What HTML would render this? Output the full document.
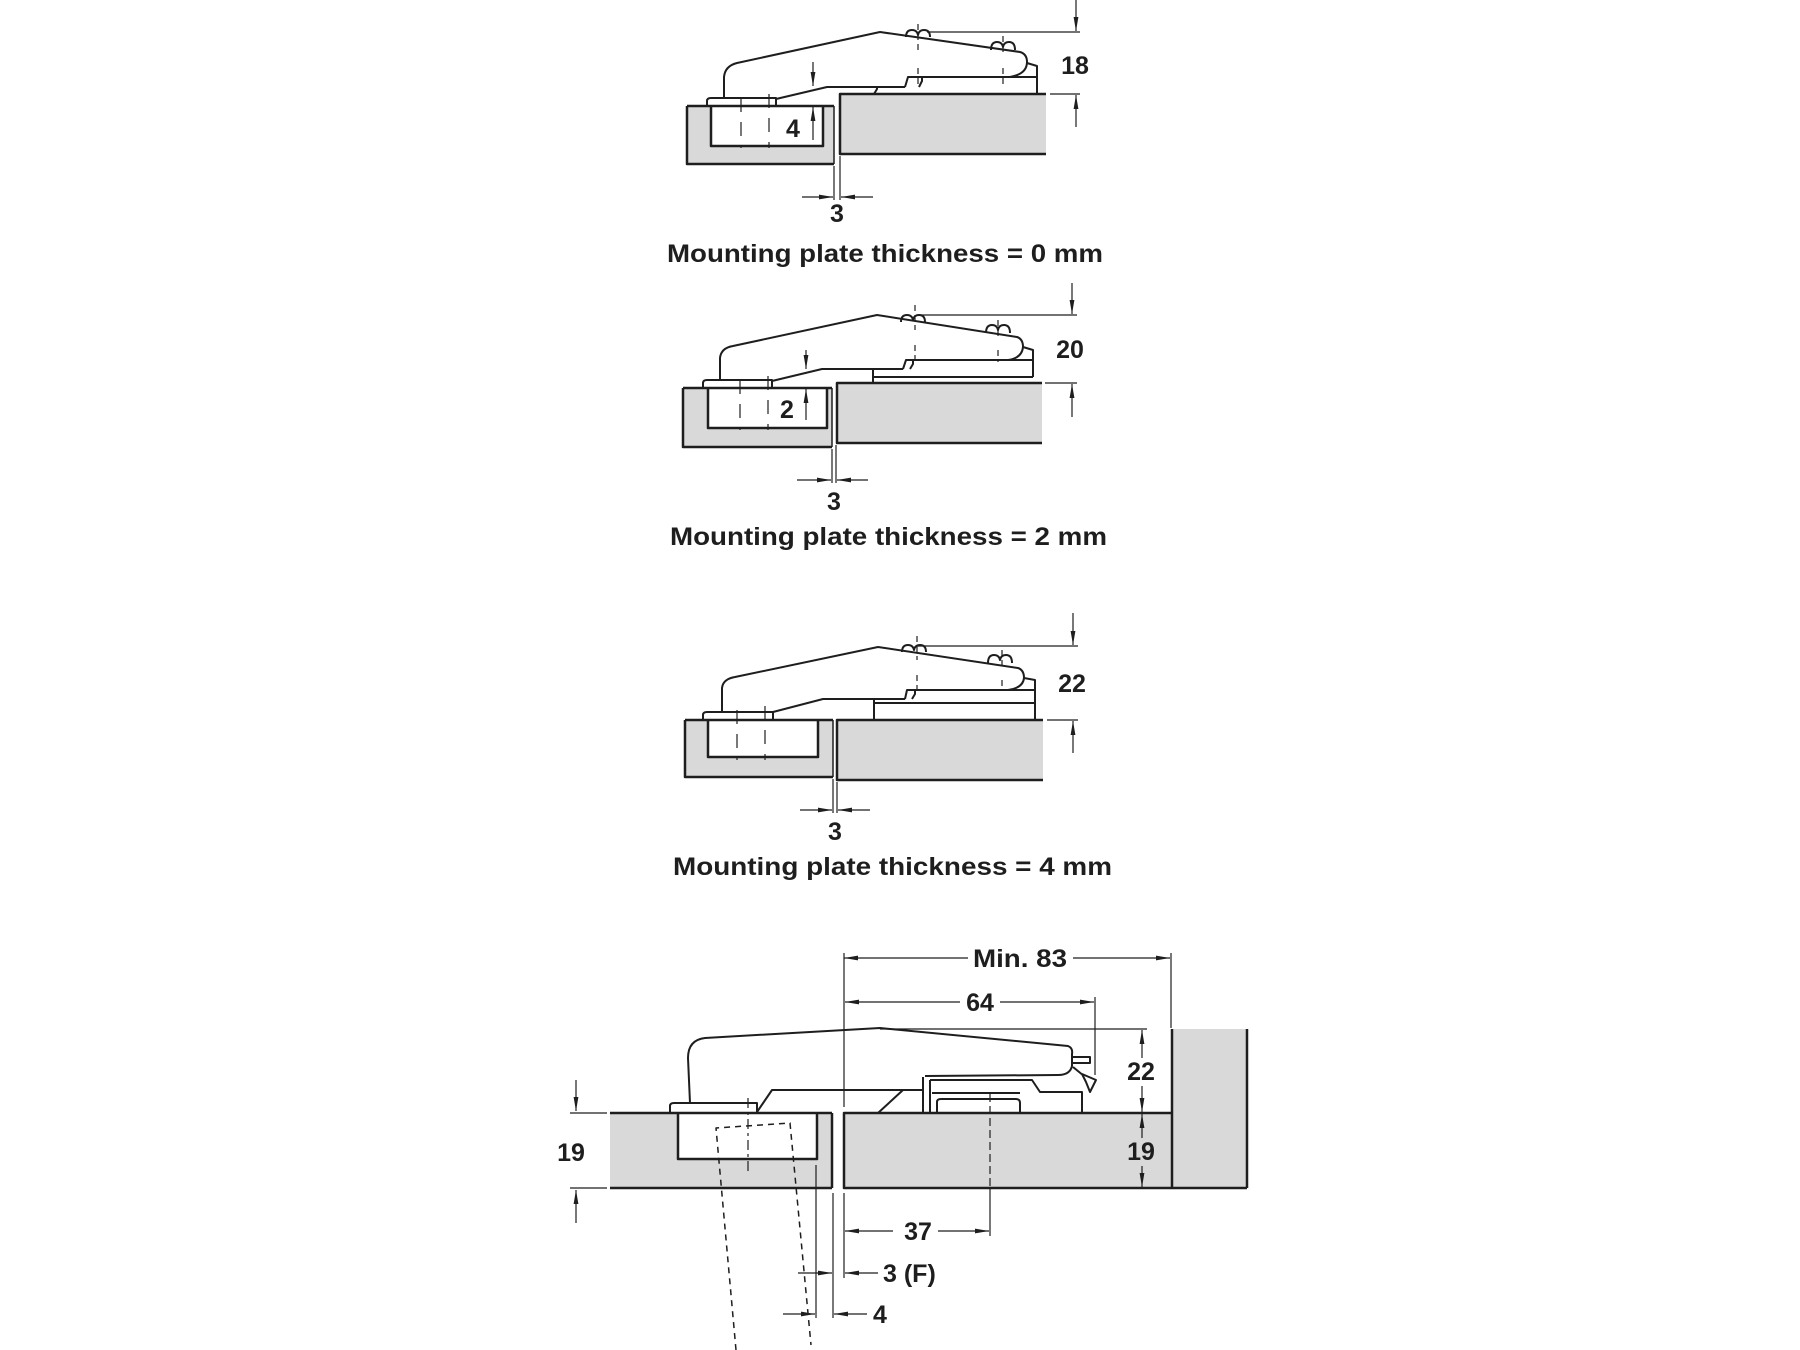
<!DOCTYPE html>
<html><head><meta charset="utf-8"><style>
html,body{margin:0;padding:0;background:#fff;}
svg{display:block;}
text{font-family:"Liberation Sans",Arial,sans-serif;font-weight:bold;fill:#1e1e1e;font-size:25px;}
</style></head><body>
<svg width="1800" height="1350" viewBox="0 0 1800 1350" xmlns="http://www.w3.org/2000/svg">
<defs>
<marker id="ar" viewBox="0 0 14 6" refX="14" refY="3" markerWidth="14" markerHeight="6" orient="auto" markerUnits="userSpaceOnUse"><path d="M0,0.6 L14,3 L0,5.4 z" fill="#1e1e1e"/></marker>
</defs>

<!-- ============ DIAGRAM 1 ============ -->
<g stroke="none" fill="#d9d9d9">
<rect x="687" y="106" width="147" height="58"/>
<rect x="840" y="94" width="206" height="60"/>
</g>
<rect x="711" y="106" width="112" height="40" fill="#fff"/>
<g fill="none" stroke="#1e1e1e" stroke-linejoin="round">
<g stroke-width="2.5">
<path d="M687,106 L834,106 M711,106 L711,146 L823,146 L823,106 M687,106 L687,164 L834,164"/>
<path d="M1046,94 L840,94 L840,154 L1046,154"/>
</g>
<path stroke-width="1.5" d="M834,106 L834,164"/>
<g stroke-width="2">
<path d="M707,106 L707,101 Q707,98 711,98 L776,98 L776,106"/>
<path d="M724,98 L724,77 Q725,66 737,63 L880,32 L1020,52 Q1027,54 1027,62 Q1027,74 1010,77"/>
<path d="M1027,63 L1037,66 L1037,94"/>
<path d="M922,77 L1037,77"/>
<path d="M776,99 L827,87 L905,87 M905,87 L908,77 L922,77 L922,81 L919,87"/>
<path d="M874,94 L877,89 L877,87"/>
<path d="M906,37 Q906,30 912,30 Q917,30 918,35 Q919,30 924,30 Q930,30 930,37"/>
<path d="M991,50 Q991,42 997,42 Q1002,42 1003,47 Q1004,42 1009,42 Q1015,42 1015,50"/>
</g>
<g stroke-width="1.2">
<path d="M927,32 L1080,32 M1050,94 L1080,94 M834,166 L834,200 M840,156 L840,200"/>
<path d="M1076,0 L1076,31" marker-end="url(#ar)"/>
<path d="M1076,127 L1076,95" marker-end="url(#ar)"/>
<path d="M813,62 L813,86" marker-end="url(#ar)"/>
<path d="M813,140 L813,107" marker-end="url(#ar)"/>
<path d="M802,197 L833,197" marker-end="url(#ar)"/>
<path d="M873,197 L841,197" marker-end="url(#ar)"/>
<path stroke-dasharray="14,10" d="M741,98 L741,148 M769,94 L769,148"/>
<path stroke-dasharray="6,4" d="M918,24 L918,52 M918,68 L918,88 M1003,36 L1003,56 M1003,68 L1003,84"/>
</g>
</g>
<text x="1075" y="74" text-anchor="middle">18</text>
<text x="793" y="137" text-anchor="middle">4</text>
<text x="837" y="222" text-anchor="middle">3</text>
<text x="667" y="262" textLength="436" lengthAdjust="spacingAndGlyphs">Mounting plate thickness = 0 mm</text>

<!-- ============ DIAGRAM 2 ============ -->
<g stroke="none" fill="#d9d9d9">
<rect x="683" y="388" width="149" height="59"/>
<rect x="837" y="383" width="205" height="60"/>
</g>
<rect x="708" y="388" width="119" height="40" fill="#fff"/>
<g fill="none" stroke="#1e1e1e" stroke-linejoin="round">
<g stroke-width="2.5">
<path d="M683,388 L832,388 M708,388 L708,428 L827,428 L827,388 M683,388 L683,447 L832,447"/>
<path d="M1042,383 L837,383 L837,443 L1042,443"/>
</g>
<path stroke-width="1.5" d="M832,388 L832,447"/>
<g stroke-width="2">
<path d="M703,388 L703,383 Q703,380 707,380 L772,380 L772,388"/>
<path d="M720,380 L720,358 Q721,348 733,346 L877,315 L1017,337 Q1023,339 1023,347 Q1022,358 1008,360"/>
<path d="M1023,347 L1033,350 L1033,377"/>
<path d="M913,360 L1033,360"/>
<path d="M772,381 L822,369 L903,369 M903,369 L906,360 L913,360 L913,364 L910,369"/>
<path d="M873,369 L873,383 M873,377 L1033,377"/>
<path d="M901,322 Q901,315 907,315 Q912,315 913,320 Q914,315 919,315 Q925,315 925,322"/>
<path d="M986,333 Q986,325 992,325 Q997,325 998,330 Q999,325 1004,325 Q1010,325 1010,333"/>
</g>
<g stroke-width="1.2">
<path d="M917,315 L1077,315 M1045,383 L1077,383 M832,449 L832,483 M836,445 L836,483"/>
<path d="M1072,283 L1072,314" marker-end="url(#ar)"/>
<path d="M1072,417 L1072,384" marker-end="url(#ar)"/>
<path d="M806,350 L806,369" marker-end="url(#ar)"/>
<path d="M806,420 L806,389" marker-end="url(#ar)"/>
<path d="M797,480 L831,480" marker-end="url(#ar)"/>
<path d="M868,480 L837,480" marker-end="url(#ar)"/>
<path stroke-dasharray="14,10" d="M740,380 L740,430 M768,376 L768,430"/>
<path stroke-dasharray="6,4" d="M915,305 L915,330 M915,345 L915,362 M998,320 L998,337 M998,350 L998,362"/>
</g>
</g>
<text x="1070" y="358" text-anchor="middle">20</text>
<text x="787" y="418" text-anchor="middle">2</text>
<text x="834" y="510" text-anchor="middle">3</text>
<text x="670" y="545" textLength="437" lengthAdjust="spacingAndGlyphs">Mounting plate thickness = 2 mm</text>

<!-- ============ DIAGRAM 3 ============ -->
<g stroke="none" fill="#d9d9d9">
<rect x="685" y="720" width="148" height="57"/>
<rect x="837" y="720" width="206" height="60"/>
</g>
<rect x="708" y="720" width="110" height="37" fill="#fff"/>
<g fill="none" stroke="#1e1e1e" stroke-linejoin="round">
<g stroke-width="2.5">
<path d="M685,720 L833,720 M708,720 L708,757 L818,757 L818,720 M685,720 L685,777 L833,777"/>
<path d="M1043,720 L837,720 L837,780 L1043,780"/>
</g>
<path stroke-width="1.5" d="M833,720 L833,777"/>
<g stroke-width="2">
<path d="M703,720 L703,715 Q703,712 707,712 L773,712 L773,720"/>
<path d="M722,712 L722,688 Q723,679 735,677 L878,647 L1018,668 Q1024,670 1024,678 Q1023,688 1008,690"/>
<path d="M1024,678 L1035,680 L1035,720"/>
<path d="M913,690 L1035,690"/>
<path d="M773,712 L823,699 L905,699 M905,699 L907,690 L915,690 L915,694 L912,699"/>
<path d="M874,699 L874,720 M874,703 L1035,703"/>
<path d="M902,652 Q902,645 908,645 Q913,645 914,650 Q915,645 920,645 Q926,645 926,652"/>
<path d="M988,663 Q988,655 994,655 Q999,655 1000,660 Q1001,655 1006,655 Q1012,655 1012,663"/>
</g>
<g stroke-width="1.2">
<path d="M917,646 L1078,646 M1047,720 L1078,720 M833,779 L833,813 M837,782 L837,813"/>
<path d="M1073,613 L1073,645" marker-end="url(#ar)"/>
<path d="M1073,753 L1073,721" marker-end="url(#ar)"/>
<path d="M800,810 L832,810" marker-end="url(#ar)"/>
<path d="M870,810 L838,810" marker-end="url(#ar)"/>
<path stroke-dasharray="14,10" d="M737,710 L737,760 M765,706 L765,760"/>
<path stroke-dasharray="6,4" d="M917,636 L917,660 M917,675 L917,690 M1002,650 L1002,668 M1002,680 L1002,690"/>
</g>
</g>
<text x="1072" y="692" text-anchor="middle">22</text>
<text x="835" y="840" text-anchor="middle">3</text>
<text x="673" y="875" textLength="439" lengthAdjust="spacingAndGlyphs">Mounting plate thickness = 4 mm</text>

<!-- ============ BOTTOM DIAGRAM ============ -->
<g stroke="none" fill="#d9d9d9">
<rect x="610" y="1113" width="222" height="75"/>
<rect x="844" y="1113" width="328" height="75"/>
<rect x="1172" y="1029" width="75" height="159"/>
</g>
<rect x="678" y="1113" width="139" height="46" fill="#fff"/>
<g fill="none" stroke="#1e1e1e" stroke-linejoin="round">
<path stroke-width="1.5" stroke-dasharray="6,5" d="M736,1350 L716,1128 L790,1123 L811,1345"/>
<path stroke-width="1.2" stroke-dasharray="10,4,3,4" d="M748,1098 L748,1172"/>
<g stroke-width="2.5">
<path d="M610,1113 L832,1113 M678,1113 L678,1159 L817,1159 L817,1113 M832,1113 L832,1188 M610,1188 L832,1188"/>
<path d="M1172,1113 L844,1113 L844,1188 L1247,1188 M1172,1029 L1172,1188 M1247,1029 L1247,1188"/>
</g>
<g stroke-width="2">
<path d="M670,1113 L670,1106 Q670,1103 674,1103 L757,1103 L757,1113"/>
<path d="M690,1103 L688,1058 Q688,1040 705,1038 L880,1028 L1068,1046 Q1073,1048 1072,1054 L1072,1066 Q1070,1075 1058,1075 L925,1076"/>
<path d="M757,1112 L772,1090 L903,1090"/>
<path d="M878,1113 L903,1090 L923,1090"/>
<path d="M923,1077 L923,1113 M930,1080 L930,1113"/>
<path d="M930,1080 L1032,1080 L1040,1092 L1082,1092 L1082,1113"/>
<path d="M932,1093 L1020,1093"/>
<path d="M937,1113 L937,1102 Q937,1099 941,1099 L1016,1099 Q1020,1099 1020,1103 L1020,1113"/>
<path d="M1072,1057 L1090,1057 L1090,1063 L1072,1063"/>
<path d="M1073,1067 L1084,1076 M1082,1074 L1096,1080 L1090,1092 L1086,1082 Z"/>
</g>
<g stroke-width="1.2">
<path d="M844,953 L844,1107 M1171,953 L1171,1028 M1095,997 L1095,1075 M880,1029 L1147,1029"/>
<path d="M968,958 L844,958" marker-end="url(#ar)"/>
<path d="M1073,958 L1170,958" marker-end="url(#ar)"/>
<path d="M960,1002 L845,1002" marker-end="url(#ar)"/>
<path d="M1000,1002 L1094,1002" marker-end="url(#ar)"/>
<path d="M1142,1058 L1142,1030" marker-end="url(#ar)"/>
<path d="M1142,1086 L1142,1112" marker-end="url(#ar)"/>
<path d="M1142,1138 L1142,1114" marker-end="url(#ar)"/>
<path d="M1142,1166 L1142,1187" marker-end="url(#ar)"/>
<path d="M570,1113 L607,1113 M570,1188 L607,1188"/>
<path d="M576,1080 L576,1111" marker-end="url(#ar)"/>
<path d="M576,1223 L576,1190" marker-end="url(#ar)"/>
<path stroke-dasharray="8,4" d="M990,1094 L990,1188"/>
<path d="M990,1188 L990,1236"/>
<path d="M844,1193 L844,1278 M816,1165 L816,1318 M833,1193 L833,1318"/>
<path d="M893,1231 L845,1231" marker-end="url(#ar)"/>
<path d="M938,1231 L989,1231" marker-end="url(#ar)"/>
<path d="M798,1273 L832,1273" marker-end="url(#ar)"/>
<path d="M878,1273 L845,1273" marker-end="url(#ar)"/>
<path d="M783,1314 L815,1314" marker-end="url(#ar)"/>
<path d="M867,1314 L834,1314" marker-end="url(#ar)"/>
</g>
</g>
<text x="973" y="967" textLength="94" lengthAdjust="spacingAndGlyphs">Min. 83</text>
<text x="980" y="1011" text-anchor="middle">64</text>
<text x="1141" y="1080" text-anchor="middle">22</text>
<text x="1141" y="1160" text-anchor="middle">19</text>
<text x="571" y="1161" text-anchor="middle">19</text>
<text x="918" y="1240" text-anchor="middle">37</text>
<text x="883" y="1282">3 (F)</text>
<text x="873" y="1323">4</text>
</svg>
</body></html>
